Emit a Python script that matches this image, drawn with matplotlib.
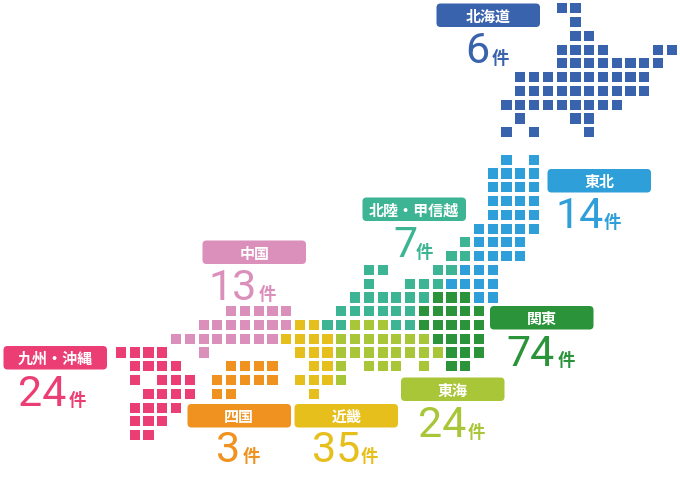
import matplotlib
matplotlib.use("Agg")
import matplotlib.pyplot as plt
from matplotlib.patches import Rectangle, FancyBboxPatch

# grid cells of the map, row: columns
hokkaido = {0: [32, 33], 1: [33], 2: [33, 34], 3: [32, 33, 34, 35, 39, 40],
            4: [32, 33, 34, 35, 36, 37, 38, 39],
            5: [29, 30, 31, 32, 33, 34, 35, 36, 37, 38],
            6: [29, 30, 31, 32, 33, 34, 35, 36, 37, 38],
            7: [28, 29, 30, 31, 32, 33, 34, 35, 36],
            8: [29, 33, 34], 9: [28, 30, 34]}
tohoku = {11: [28, 30], 12: [27, 28, 29, 30], 13: [27, 28, 29, 30],
          14: [27, 28, 29, 30], 15: [27, 28, 29, 30], 16: [26, 27, 28, 29, 30],
          17: [26, 27, 28, 29], 18: [26, 27, 28, 29], 19: [25, 26, 27],
          20: [24, 25, 26, 27], 21: [26, 27]}
hokuriku = {17: [25], 18: [24, 25], 19: [18, 19, 23, 24], 20: [18, 21, 22, 23],
            21: [17, 18, 19, 20, 21, 22], 22: [16, 17, 18, 19, 20, 21],
            23: [15, 16, 20, 21]}
kanto = {21: [23, 24, 25], 22: [22, 23, 24, 25, 26], 23: [22, 23, 24, 25, 26],
         24: [23, 24, 25, 26], 25: [24, 25, 26], 26: [24, 25]}
tokai = {23: [17, 18, 19], 24: [16, 17, 18, 19, 20, 21, 22],
         25: [16, 17, 18, 19, 20, 21, 22, 23], 26: [16, 18, 19, 20, 22], 27: [16]}
kinki = {23: [13, 14], 24: [12, 13, 14, 15], 25: [13, 14, 15], 26: [14, 15],
         27: [13, 14, 15], 28: [14]}
shikoku = {26: [8, 9, 10, 11], 27: [7, 8, 9, 10, 11], 28: [7, 8]}
chugoku = {22: [8, 9, 10, 11, 12], 23: [6, 7, 8, 9, 10, 11, 12],
           24: [4, 5, 6, 7, 8, 9, 10, 11], 25: [6]}
kyushu = {25: [0, 1, 2, 3], 26: [1, 2, 3, 4], 27: [1, 3, 4, 5], 28: [2, 3, 4, 5],
          29: [1, 2, 3, 4], 30: [1, 2, 3], 31: [1, 2]}

regions = [hokkaido, tohoku, hokuriku, kanto, tokai, kinki, shikoku, chugoku, kyushu]
names = ["北海道", "東北", "北陸・甲信越", "関東", "東海", "近畿", "四国", "中国", "九州・沖縄"]
counts = ["6", "14", "7", "74", "24", "35", "3", "13", "24"]
colors = ["#3A63AE", "#2E9FD8", "#3DB594", "#2B943B", "#A8C638",
          "#E7BF1C", "#EF921F", "#DB8FBB", "#EA3E75"]

# label layout in pixels
box_left = [436.5, 547.5, 362.5, 490, 401, 294.5, 187.5, 202.5, 3.5]
box_top = [3.5, 169, 197.5, 306, 377.5, 404, 404, 240.5, 346]
num_mid = [477.5, 580, 405, 530.5, 442.5, 336, 228.5, 233, 42]
num_base = [63, 228, 257, 366, 437, 462, 462, 300, 406]
ken_left = [492, 604, 416, 558, 468, 361, 243, 259, 69]

BOX_W = 103.5
BOX_H = 23.5
PITCH = 13.77
CELL = 10.2
X0 = 121
Y0 = 8.3

CJK = ["Noto Sans CJK JP", "DejaVu Sans"]

fig = plt.figure(figsize=(6.8, 4.8), dpi=100)
ax = fig.add_axes([0, 0, 1, 1])
ax.set_xlim(0, 680)
ax.set_ylim(480, 0)
ax.axis("off")

for cells, color in zip(regions, colors):
    for row, cols in cells.items():
        for col in cols:
            x = X0 + PITCH * col - CELL / 2
            y = Y0 + PITCH * row - CELL / 2
            ax.add_patch(Rectangle((x, y), CELL, CELL, facecolor=color, edgecolor="none"))

for i in range(len(names)):
    c = colors[i]
    ax.add_patch(FancyBboxPatch((box_left[i], box_top[i]), BOX_W, BOX_H,
                                boxstyle="round,pad=0,rounding_size=4",
                                facecolor=c, edgecolor="none"))
    ax.text(box_left[i] + BOX_W / 2, box_top[i] + BOX_H / 2, names[i], color="white",
            family=CJK, fontsize=10.8, fontweight="bold", ha="center", va="center_baseline")
    ax.text(num_mid[i], num_base[i], counts[i], color=c, family="Roboto",
            fontsize=31, ha="center", va="baseline")
    ax.text(ken_left[i], num_base[i] + 0.5, "件", color=c, family=CJK,
            fontsize=12.5, fontweight="bold", ha="left", va="baseline")

fig.savefig("out.png", dpi=100)
